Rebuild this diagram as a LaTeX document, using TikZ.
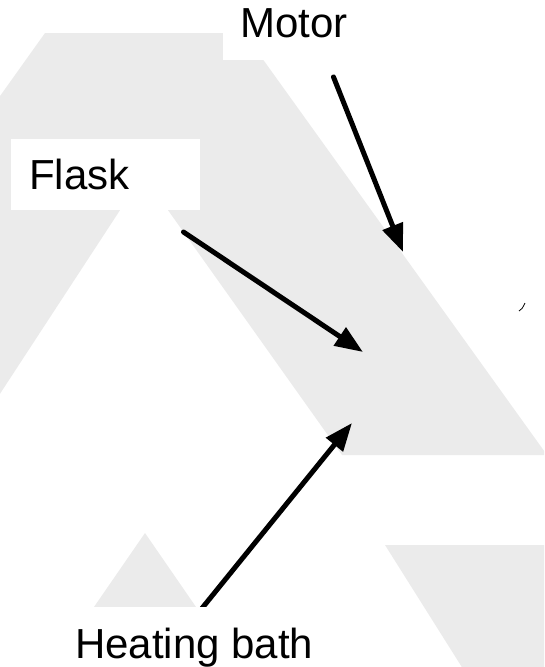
\documentclass[tikz,border=0pt]{standalone}
\usepackage{fontspec}
\setmainfont{Liberation Sans}
\usetikzlibrary{arrows.meta}
\definecolor{bggray}{RGB}{235,235,235}
\begin{document}
\begin{tikzpicture}[x=1pt,y=-1pt,
  labelbox/.style={fill=white, draw=none, inner sep=0pt, anchor=north west},
  labeltext/.style={inner sep=0pt, anchor=base west, font=\fontsize{42}{50}\selectfont, text=black},
  pointer/.style={line width=5pt, draw=black, line cap=round, -{Triangle[length=28pt,width=21pt]}}]
\useasboundingbox (0,0) rectangle (544,667);
% background watermark shapes
\begin{scope}
\clip (0,0) rectangle (544,667);
\fill[bggray] (45,33) -- (244,33) -- (547,455) -- (342,455) -- (143,175) -- (-40,455) -- (-256,455) -- cycle;
\fill[bggray] (145,533) -- (205,620) -- (85,620) -- cycle;
\fill[bggray] (385,545) -- (560,545) -- (560,680) -- (470,680) -- cycle;
\end{scope}
% small stroke
\draw[line width=0.8pt, black] (519,311) .. controls (522,309) .. (525,303);
% arrow end points
\coordinate (motorTail) at (333.5,77);
\coordinate (motorTip) at (403,252);
\coordinate (flaskTail) at (183.5,232);
\coordinate (flaskTip) at (363,352);
\coordinate (heatTail) at (196.7,614.8);
\coordinate (heatTip) at (352,423);
\draw[pointer] (motorTail) -- (motorTip);
\draw[pointer] (flaskTail) -- (flaskTip);
\draw[pointer] (heatTail) -- (heatTip);
% label boxes
\node[labelbox, minimum width=200pt, minimum height=71pt] (motorbox) at (223,-11) {};
\node[labelbox, minimum width=189pt, minimum height=71pt] (flaskbox) at (11,139) {};
\node[labelbox, minimum width=325pt, minimum height=71pt] (heatbox) at (58,607) {};
\node[labeltext] (motor) at (240,37) {Motor};
\node[labeltext] (flask) at (29,189) {Flask};
\node[labeltext] (heat) at (75,658) {Heating bath};
\end{tikzpicture}
\end{document}
